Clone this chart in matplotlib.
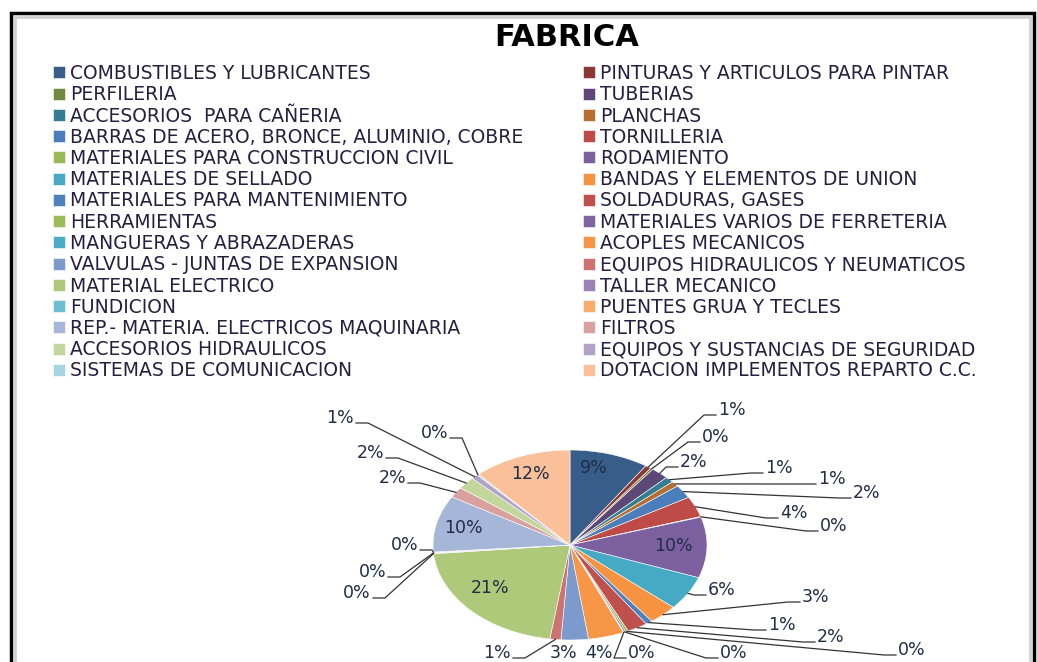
import matplotlib.pyplot as plt
import numpy as np
from matplotlib.patches import Rectangle

categorias = [
    "COMBUSTIBLES Y LUBRICANTES", "PINTURAS Y ARTICULOS PARA PINTAR",
    "PERFILERIA", "TUBERIAS",
    "ACCESORIOS  PARA CAÑERIA", "PLANCHAS",
    "BARRAS DE ACERO, BRONCE, ALUMINIO, COBRE", "TORNILLERIA",
    "MATERIALES PARA CONSTRUCCION CIVIL", "RODAMIENTO",
    "MATERIALES DE SELLADO", "BANDAS Y ELEMENTOS DE UNION",
    "MATERIALES PARA MANTENIMIENTO", "SOLDADURAS, GASES",
    "HERRAMIENTAS", "MATERIALES VARIOS DE FERRETERIA",
    "MANGUERAS Y ABRAZADERAS", "ACOPLES MECANICOS",
    "VALVULAS - JUNTAS DE EXPANSION", "EQUIPOS HIDRAULICOS Y NEUMATICOS",
    "MATERIAL ELECTRICO", "TALLER MECANICO",
    "FUNDICION", "PUENTES GRUA Y TECLES",
    "REP.- MATERIA. ELECTRICOS MAQUINARIA", "FILTROS",
    "ACCESORIOS HIDRAULICOS", "EQUIPOS Y SUSTANCIAS DE SEGURIDAD",
    "SISTEMAS DE COMUNICACION", "DOTACION IMPLEMENTOS REPARTO C.C.",
]
valores = [9.3, 0.7, 0.3, 2.1, 1.0, 0.9, 2.3, 3.5, 0.1, 10.3,
           5.8, 3.4, 0.8, 2.4, 0.3, 0.2, 0.1, 4.2, 3.2, 1.3,
           21.1, 0.1, 0.1, 0.1, 9.6, 1.8, 2.1, 0.8, 0.2, 11.6]
colores = ["#385D8A", "#8C3836", "#71893F", "#5C4776", "#357D91", "#B66D31",
           "#4A7EBB", "#BE4B48", "#98B954", "#7D60A0", "#46AAC5", "#F69240",
           "#4F81BD", "#C0504D", "#9BBB59", "#8064A2", "#4BACC6", "#F79646",
           "#7C9ACB", "#CD7371", "#AFC97A", "#9983B5", "#6FBDD1", "#F9AB6B",
           "#A5B6D8", "#D9A0A0", "#C3D69B", "#B3A2C7", "#A5D4E3", "#FAC09A"]

# posicion de cada etiqueta en pixeles y tipo (in = dentro, r/l = lado de la linea, n = sin linea)
etiquetas_pos = [
    (594, 468, "in"), (718, 410, "r"), (702, 437, "r"), (680, 462, "r"),
    (765, 468, "r"), (818, 479, "r"), (853, 493, "r"), (780, 513, "r"),
    (820, 526, "r"), (673, 546, "in"), (708, 590, "r"), (802, 597, "r"),
    (768, 625, "r"), (817, 637, "r"), (898, 650, "r"), (720, 653, "r"),
    (628, 653, "r"), (585, 653, "n"), (550, 653, "n"), (511, 653, "l"),
    (490, 588, "in"), (371, 593, "l"), (386, 572, "l"), (418, 545, "l"),
    (463, 528, "in"), (406, 478, "l"), (384, 453, "l"), (354, 418, "l"),
    (448, 433, "l"), (530, 474, "in"),
]

W, H = 1037, 662
fig = plt.figure(figsize=(W / 100, H / 100), dpi=100)


def fig_xy(px, py):
    return px / W, 1 - py / H


# marco del grafico
fig.patches.append(Rectangle(fig_xy(11, 690), (1034 - 11) / W, (690 - 13) / H,
                             transform=fig.transFigure, fill=False, ec="black", lw=2.5))
fig.patches.append(Rectangle(fig_xy(15, 690), (1030 - 15) / W, (690 - 17) / H,
                             transform=fig.transFigure, fill=False, ec="#d0d0d0", lw=2))

fig.text(567 / W, 1 - 38 / H, "FABRICA", ha="center", va="center",
         fontsize=22, fontweight="bold", color="black")

cx, cy, rx, ry = 570, 545, 137, 95
ax = fig.add_axes([(cx - rx) / W, 1 - (cy + ry) / H, 2 * rx / W, 2 * ry / H])
wedges, _ = ax.pie(valores, colors=colores, startangle=90, counterclock=False,
                   wedgeprops=dict(edgecolor="white", linewidth=0.4))
ax.set_aspect("auto")
ax.set_xlim(-1, 1)
ax.set_ylim(-1, 1)


def to_data(px, py):
    return (px - cx) / rx, (cy - py) / ry


total = sum(valores)
txt_color = "#1F2D45"
for w, v, (px, py, modo) in zip(wedges, valores, etiquetas_pos):
    txt = f"{round(v / total * 100)}%"
    tx, ty = to_data(px, py)
    if modo == "in":
        ax.text(tx, ty, txt, ha="center", va="center", fontsize=12.5, color=txt_color)
        continue
    if modo == "n":
        ax.text(tx, ty, txt, ha="left", va="center", fontsize=12.5, color=txt_color, clip_on=False)
        continue
    sign = 1 if modo == "r" else -1
    ang = np.deg2rad((w.theta1 + w.theta2) / 2)
    ex, ey = px - sign * 2, py + 5
    bx = ex - sign * 12
    p1 = to_data(bx, ey)
    p2 = to_data(ex, ey)
    ax.plot([np.cos(ang), p1[0], p2[0]], [np.sin(ang), p1[1], p2[1]],
            color="#333333", lw=0.9, clip_on=False)
    ax.text(tx, ty, txt, ha="left" if sign > 0 else "right", va="center",
            fontsize=12.5, color=txt_color, clip_on=False)

ley = dict(loc="upper left", frameon=False, fontsize=13.5, handlelength=0.62,
           handleheight=0.62, handletextpad=0.3, labelspacing=0.12,
           borderpad=0, borderaxespad=0, labelcolor="#262040")
fig.legend(wedges[0::2], categorias[0::2], bbox_to_anchor=fig_xy(53, 64), **ley)
fig.legend(wedges[1::2], categorias[1::2], bbox_to_anchor=fig_xy(583, 64), **ley)

fig.savefig("out.png", dpi=100)
